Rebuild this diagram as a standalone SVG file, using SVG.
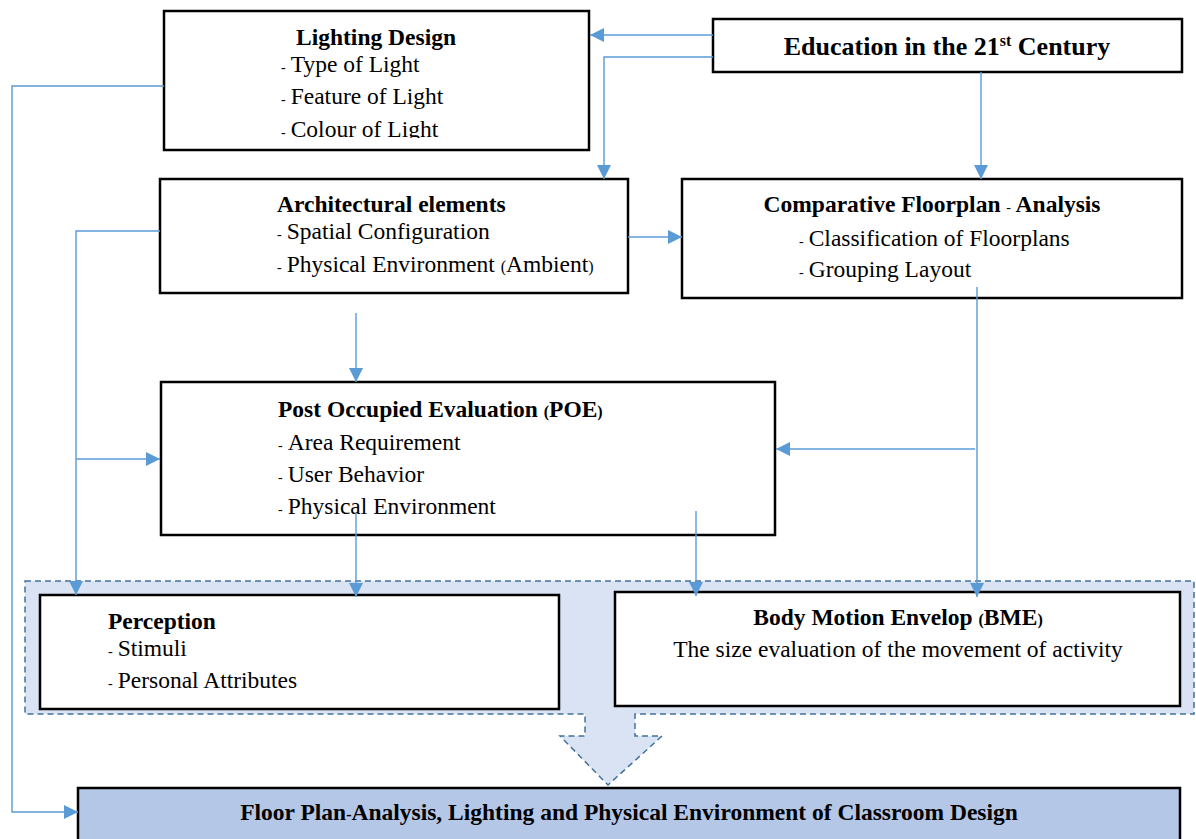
<svg xmlns="http://www.w3.org/2000/svg" width="1196" height="839" viewBox="0 0 1196 839">
<style>
.box{fill:#fff;stroke:#000;stroke-width:2.5}
.t{font-family:"Liberation Serif","Times New Roman",serif;font-size:23.5px;fill:#000}
.b{font-weight:bold}
.d{font-size:14px}
.p{font-size:16px}
.c{fill:none;stroke:#5b9bd5;stroke-width:1.4;marker-end:url(#ah)}
.cn{fill:none;stroke:#5b9bd5;stroke-width:1.4}
</style>
<defs>
<marker id="ah" viewBox="0 0 10 10" refX="10" refY="5" markerUnits="userSpaceOnUse" markerWidth="14" markerHeight="14" orient="auto">
<path d="M0,0 L10,5 L0,10 z" fill="#5b9bd5"/>
</marker>
<clipPath id="clipL"><rect x="164" y="11" width="425" height="127"/></clipPath>
</defs>
<rect width="1196" height="839" fill="#fff"/>

<g id="callout">
<path d="M25,581 H1194 V714 H635 V736 H662 L608,785 L560,736 H585 V714 H25 Z" fill="#dae3f3" stroke="#41719c" stroke-width="1.5" stroke-dasharray="6,4"/>
</g>

<g id="lighting">
<rect class="box" x="164" y="11" width="425" height="139"/>
<g clip-path="url(#clipL)">
<text class="t b" x="376" y="45" text-anchor="middle">Lighting Design</text>
<text class="t" x="281" y="72"><tspan class="d">-</tspan><tspan dx="5">Type of Light</tspan></text>
<text class="t" x="281" y="104"><tspan class="d">-</tspan><tspan dx="5">Feature of Light</tspan></text>
<text class="t" x="281" y="137"><tspan class="d">-</tspan><tspan dx="5">Colour of Light</tspan></text>
</g>
</g>

<g id="education">
<rect class="box" x="713" y="19" width="469" height="53"/>
<text class="t b" x="947" y="55" text-anchor="middle" style="font-size:26px">Education in the 21<tspan dy="-9" style="font-size:16px">st</tspan><tspan dy="9"> Century</tspan></text>
</g>

<g id="architectural">
<rect class="box" x="160" y="179" width="468" height="114"/>
<text class="t b" x="277" y="212">Architectural elements</text>
<text class="t" x="277" y="239"><tspan class="d">-</tspan><tspan dx="5">Spatial Configuration</tspan></text>
<text class="t" x="277" y="272"><tspan class="d">-</tspan><tspan dx="5">Physical Environment </tspan><tspan class="p">(</tspan>Ambient<tspan class="p">)</tspan></text>
</g>

<g id="comparative">
<rect class="box" x="682" y="179" width="500" height="119"/>
<text class="t b" x="932" y="212" text-anchor="middle">Comparative Floorplan <tspan class="d" style="font-weight:normal">-</tspan> Analysis</text>
<text class="t" x="799" y="246"><tspan class="d">-</tspan><tspan dx="5">Classification of Floorplans</tspan></text>
<text class="t" x="799" y="277"><tspan class="d">-</tspan><tspan dx="5">Grouping Layout</tspan></text>
</g>

<g id="poe">
<rect class="box" x="161" y="382" width="614" height="153"/>
<text class="t b" x="278" y="417">Post Occupied Evaluation <tspan class="p">(</tspan>POE<tspan class="p">)</tspan></text>
<text class="t" x="278" y="450"><tspan class="d">-</tspan><tspan dx="5">Area Requirement</tspan></text>
<text class="t" x="278" y="482"><tspan class="d">-</tspan><tspan dx="5">User Behavior</tspan></text>
<text class="t" x="278" y="514"><tspan class="d">-</tspan><tspan dx="5">Physical Environment</tspan></text>
</g>

<g id="perception">
<rect class="box" x="40" y="595" width="519" height="114"/>
<text class="t b" x="108" y="629">Perception</text>
<text class="t" x="108" y="656"><tspan class="d">-</tspan><tspan dx="5">Stimuli</tspan></text>
<text class="t" x="108" y="688"><tspan class="d">-</tspan><tspan dx="5">Personal Attributes</tspan></text>
</g>

<g id="bme">
<rect class="box" x="615" y="592" width="565" height="114"/>
<text class="t b" x="898" y="625" text-anchor="middle">Body Motion Envelop <tspan class="p">(</tspan>BME<tspan class="p">)</tspan></text>
<text class="t" x="898" y="657" text-anchor="middle">The size evaluation of the movement of activity</text>
</g>

<g id="floor">
<rect x="78" y="788" width="1102" height="60" fill="#b4c7e7" stroke="#000" stroke-width="2.5"/>
<text class="t b" x="629" y="820" text-anchor="middle">Floor Plan<tspan class="p">-</tspan>Analysis, Lighting and Physical Environment of Classroom Design</text>
</g>

<g id="connectors">
<path class="c" d="M713,35 H590"/>
<path class="c" d="M713,57 H604 V179"/>
<path class="c" d="M981,72 V179"/>
<path class="c" d="M164,86 H12 V812 H78"/>
<path class="c" d="M160,231 H76 V595"/>
<path class="c" d="M76,459 H160"/>
<path class="c" d="M628,237 H682"/>
<path class="c" d="M356,313 V382"/>
<path class="c" d="M977,287 V597"/>
<path class="c" d="M975,449 H776"/>
<path class="c" d="M356,513 V597"/>
<path class="c" d="M696,511 V596"/>
</g>
</svg>
